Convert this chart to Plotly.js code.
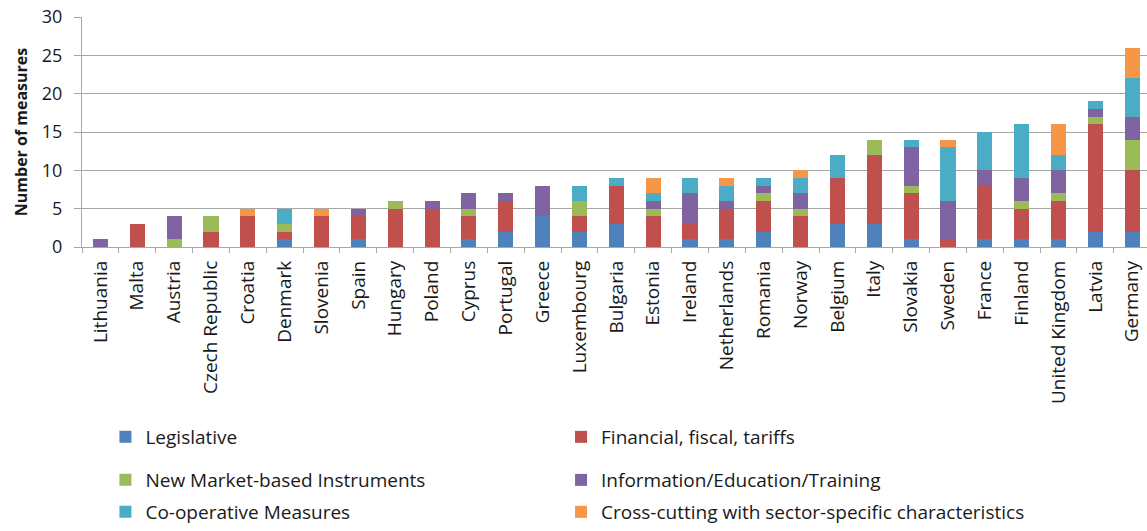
<!DOCTYPE html>
<html>
<head>
<meta charset="utf-8">
<script src="https://cdn.plot.ly/plotly-3.0.1.min.js"></script>
<style>html,body{margin:0;padding:0;background:#fff;}#chart{width:1147px;height:531px;}</style>
</head>
<body>
<div id="chart"></div>
<script>
var countries = ["Lithuania","Malta","Austria","Czech Republic","Croatia","Denmark","Slovenia","Spain","Hungary","Poland","Cyprus","Portugal","Greece","Luxembourg","Bulgaria","Estonia","Ireland","Netherlands","Romania","Norway","Belgium","Italy","Slovakia","Sweden","France","Finland","United Kingdom","Latvia","Germany"];

var legislative = [0,0,0,0,0,1,0,1,0,0,1,2,4,2,3,0,1,1,2,0,3,3,1,0,1,1,1,2,2];
var financial   = [0,3,0,2,4,1,4,3,5,5,3,4,0,2,5,4,2,4,4,4,6,9,6,1,7,4,5,14,8];
var newMarket   = [0,0,1,2,0,1,0,0,1,0,1,0,0,2,0,1,0,0,1,1,0,2,1,0,0,1,1,1,4];
var information = [1,0,3,0,0,0,0,1,0,1,2,1,4,0,0,1,4,1,1,2,0,0,5,5,2,3,3,1,3];
var cooperative = [0,0,0,0,0,2,0,0,0,0,0,0,0,2,1,1,2,2,1,2,3,0,1,7,5,7,2,1,5];
var crossCutting= [0,0,0,0,1,0,1,0,0,0,0,0,0,0,0,2,0,1,0,1,0,0,0,1,0,0,4,0,4];

var seriesNames = ["Legislative","Financial, fiscal, tariffs","New Market-based Instruments","Information/Education/Training","Co-operative Measures","Cross-cutting with sector-specific characteristics"];
var seriesValues = [legislative, financial, newMarket, information, cooperative, crossCutting];
var seriesColors = ["#4F81BD","#C0504D","#9BBB59","#8064A2","#4BACC6","#F79646"];
var legendIds = ["legend","legend2","legend3","legend4","legend5","legend6"];

var FONT = "Open Sans, Arial, sans-serif";

var data = seriesNames.map(function(name, i){
  return {
    type: "bar",
    name: name,
    x: countries,
    y: seriesValues[i],
    marker: {color: seriesColors[i], line: {width: 0}},
    legend: legendIds[i],
    hoverinfo: "x+y+name"
  };
});

function legendAt(x, y, anchor){
  return {
    orientation: "h",
    x: x, xanchor: "left", xref: "paper",
    y: y, yanchor: anchor || "middle", yref: "container",
    font: {family: FONT, size: 19, color: "#1a1a1a"},
    bgcolor: "rgba(0,0,0,0)",
    itemclick: false, itemdoubleclick: false
  };
}

var COL1 = 0.022, COL2 = 0.4498;

var layout = {
  width: 1147, height: 531,
  margin: {l: 82, r: 0, t: 17, b: 283.5},
  paper_bgcolor: "#ffffff",
  plot_bgcolor: "#ffffff",
  barmode: "stack",
  bargap: 0.59,
  showlegend: true,
  font: {family: FONT, color: "#1a1a1a"},
  xaxis: {
    type: "category",
    range: [-0.5, 28.4],
    tickangle: -90,
    tickfont: {family: FONT, size: 19, color: "#1a1a1a"},
    showline: true, linecolor: "#a6a6a6", linewidth: 1.3,
    ticks: "outside", tickson: "boundaries", ticklen: 5, tickcolor: "#a6a6a6", tickwidth: 1.3,
    ticklabelstandoff: 5,
    showgrid: false,
    fixedrange: true
  },
  yaxis: {
    range: [0, 30],
    dtick: 5,
    tick0: 0,
    tickfont: {family: FONT, size: 18, color: "#1a1a1a"},
    showline: true, linecolor: "#a6a6a6", linewidth: 1.3,
    ticks: "outside", ticklen: 7, tickcolor: "#a6a6a6", tickwidth: 1.3,
    ticklabelstandoff: 8,
    showgrid: true, gridcolor: "#a6a6a6", gridwidth: 1.3,
    zeroline: false,
    title: {text: "<b>Number of measures</b>", font: {family: FONT, size: 16, color: "#1a1a1a"}, standoff: 10},
    fixedrange: true
  },
  legend:  legendAt(COL1, 0.177),
  legend2: legendAt(COL2, 0.177),
  legend3: legendAt(COL1, 0.096),
  legend4: legendAt(COL2, 0.096),
  legend5: legendAt(COL1, -0.014, "bottom"),
  legend6: legendAt(COL2, -0.014, "bottom")
};

Plotly.newPlot("chart", data, layout, {displayModeBar: false, staticPlot: false});
</script>
</body>
</html>
